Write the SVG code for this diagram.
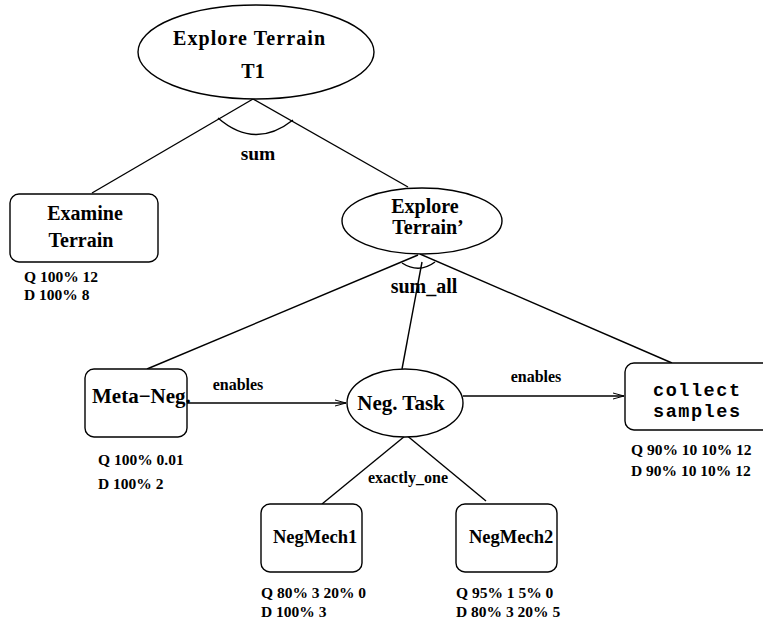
<svg xmlns="http://www.w3.org/2000/svg" width="763" height="626" viewBox="0 0 763 626">
<style>
.shape{fill:#fff;stroke:#000;stroke-width:1.4}
.ln{fill:none;stroke:#000;stroke-width:1.4}
.t{font-family:"Liberation Serif","Times New Roman",serif;font-weight:bold;fill:#000}
.big{font-size:20px}
.lab{font-size:16px}
.st{font-size:15.5px}
.mono{font-family:"Liberation Mono","Courier New",monospace;font-weight:bold;font-size:18.5px;fill:#000}
</style>
<defs>
<marker id="arr" markerWidth="12" markerHeight="8" refX="11" refY="4" orient="auto" markerUnits="userSpaceOnUse">
<path d="M0,1 L11,4 L0,7" fill="none" stroke="#000" stroke-width="1"/>
</marker>
</defs>
<g id="connectors">
<line class="ln" x1="253" y1="99" x2="92" y2="193"/>
<line class="ln" x1="253" y1="99" x2="408" y2="187"/>
<path class="ln" d="M218,118 Q255,150 293,120"/>
<text class="t lab" x="258" y="160" text-anchor="middle" style="font-size:19.5px">sum</text>
<line class="ln" x1="418" y1="255" x2="147" y2="369"/>
<line class="ln" x1="422" y1="262" x2="402" y2="369"/>
<line class="ln" x1="420" y1="254" x2="672" y2="363"/>
<path class="ln" d="M402,263 Q419,274 435,262"/>
<text class="t big" x="424" y="293" text-anchor="middle">sum_all</text>
<line class="ln" x1="187" y1="403" x2="346" y2="403" marker-end="url(#arr)"/>
<text class="t lab" x="238" y="390" text-anchor="middle">enables</text>
<line class="ln" x1="463" y1="396" x2="624" y2="396" marker-end="url(#arr)"/>
<text class="t lab" x="536" y="382" text-anchor="middle">enables</text>
<line class="ln" x1="405" y1="436" x2="322" y2="504"/>
<line class="ln" x1="405" y1="434" x2="486" y2="501"/>
<text class="t lab" x="408" y="483" text-anchor="middle">exactly_one</text>
</g>
<g id="explore-terrain-t1">
<ellipse class="shape" cx="256" cy="52" rx="118" ry="47"/>
<text class="t big" x="249" y="45" text-anchor="middle" textLength="152">Explore Terrain</text>
<text class="t big" x="253" y="78" text-anchor="middle">T1</text>
</g>
<g id="examine-terrain">
<rect class="shape" x="10" y="194" width="148" height="68" rx="9"/>
<text class="t big" x="85" y="220" text-anchor="middle">Examine</text>
<text class="t big" x="81" y="247" text-anchor="middle">Terrain</text>
<text class="t st" x="24" y="282">Q 100% 12</text>
<text class="t st" x="24" y="300">D 100% 8</text>
</g>
<g id="explore-terrain-prime">
<ellipse class="shape" cx="422" cy="221" rx="80" ry="33"/>
<text class="t big" x="425" y="213" text-anchor="middle">Explore</text>
<text class="t big" x="428" y="234" text-anchor="middle">Terrain’</text>
</g>
<g id="meta-neg">
<rect class="shape" x="85" y="369" width="102" height="68" rx="9"/>
<text class="t big" x="92" y="403" style="font-size:21px">Meta−Neg.</text>
<text class="t st" x="98" y="465">Q 100% 0.01</text>
<text class="t st" x="98" y="489">D 100% 2</text>
</g>
<g id="neg-task">
<ellipse class="shape" cx="405" cy="403" rx="58" ry="34"/>
<text class="t big" x="401" y="410" text-anchor="middle" style="font-size:21px">Neg. Task</text>
</g>
<g id="collect-samples">
<rect class="shape" x="625" y="363" width="160" height="67" rx="9"/>
<text class="mono" x="653" y="396" textLength="87">collect</text>
<text class="mono" x="653" y="417" textLength="87">samples</text>
<text class="t st" x="631" y="455">Q 90% 10 10% 12</text>
<text class="t st" x="631" y="476">D 90% 10 10% 12</text>
</g>
<g id="negmech1">
<rect class="shape" x="261" y="504" width="101" height="68" rx="9"/>
<text class="t" x="273" y="543" style="font-size:18.5px">NegMech1</text>
<text class="t st" x="261" y="598">Q 80% 3 20% 0</text>
<text class="t st" x="261" y="617">D 100% 3</text>
</g>
<g id="negmech2">
<rect class="shape" x="456" y="504" width="101" height="68" rx="9"/>
<text class="t" x="469" y="543" style="font-size:18.5px">NegMech2</text>
<text class="t st" x="456" y="598">Q 95% 1 5% 0</text>
<text class="t st" x="456" y="617">D 80% 3 20% 5</text>
</g>
</svg>
